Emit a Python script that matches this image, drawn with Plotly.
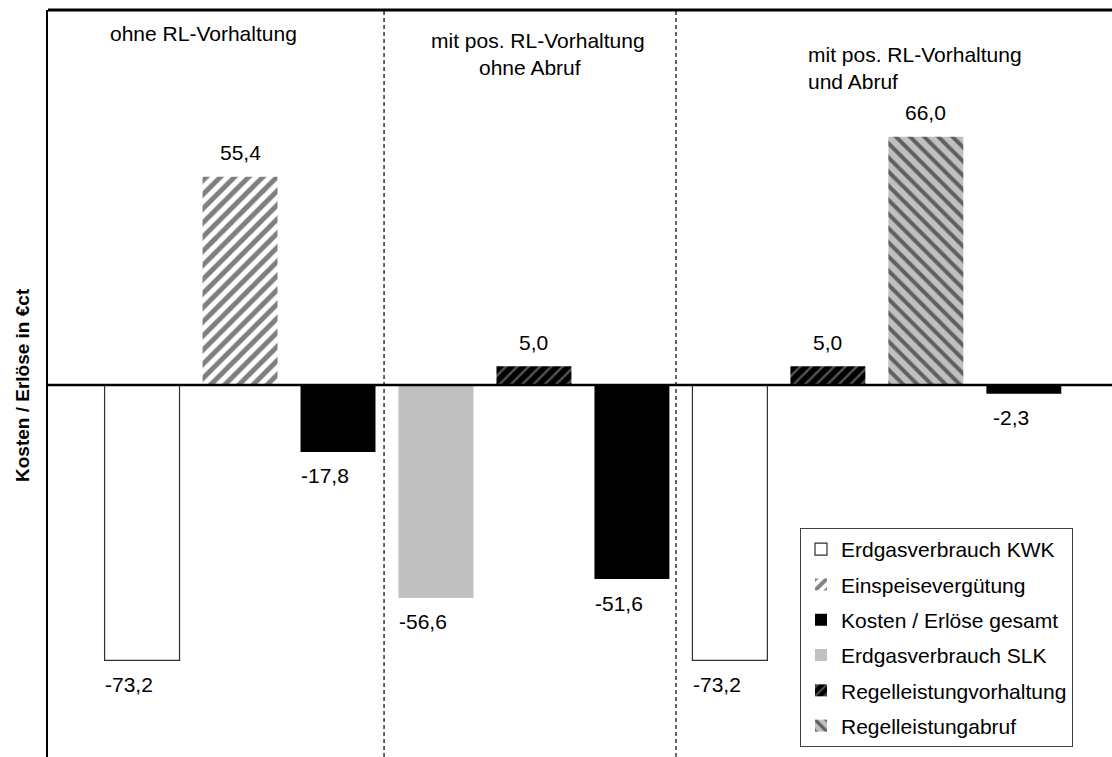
import plotly.graph_objects as go

# ---------------- data ----------------
categories = [
    "A_KWK", "A_Einspeise", "A_Gesamt",
    "B_SLK", "B_Vorhaltung", "B_Gesamt",
    "C_KWK", "C_Vorhaltung", "C_Abruf", "C_Gesamt",
]

kwk_cats = ["A_KWK", "C_KWK"]
kwk_vals = [-73.2, -73.2]

einspeise_cats = ["A_Einspeise"]
einspeise_vals = [55.4]

gesamt_cats = ["A_Gesamt", "B_Gesamt", "C_Gesamt"]
gesamt_vals = [-17.8, -51.6, -2.3]

slk_cats = ["B_SLK"]
slk_vals = [-56.6]

vorhaltung_cats = ["B_Vorhaltung", "C_Vorhaltung"]
vorhaltung_vals = [5.0, 5.0]

abruf_cats = ["C_Abruf"]
abruf_vals = [66.0]

series_names = [
    "Erdgasverbrauch KWK",
    "Einspeisevergütung",
    "Kosten / Erlöse gesamt",
    "Erdgasverbrauch SLK",
    "Regelleistungvorhaltung",
    "Regelleistungabruf",
]

y_title = "Kosten / Erlöse in €ct"

# ---------------- styling ----------------
FONT = "Liberation Sans, Arial, sans-serif"
W = 0.765

styles = {
    "Erdgasverbrauch KWK": dict(color="white", line=dict(color="#303030", width=1.2)),
    "Einspeisevergütung": dict(color="white", line=dict(width=0),
                               pattern=dict(shape="/", fgcolor="black", bgcolor="white",
                                            size=10, solidity=0.5)),
    "Kosten / Erlöse gesamt": dict(color="black", line=dict(width=0)),
    "Erdgasverbrauch SLK": dict(color="#c0c0c0", line=dict(width=0)),
    "Regelleistungvorhaltung": dict(color="black", line=dict(width=0),
                                    pattern=dict(shape="/", fgcolor="#a8a8a8", bgcolor="black",
                                                 size=8, solidity=0.3)),
    "Regelleistungabruf": dict(color="#c0c0c0", line=dict(width=0),
                               pattern=dict(shape="\\", fgcolor="black", bgcolor="#c0c0c0",
                                            size=10, solidity=0.4)),
}

data_map = {
    "Erdgasverbrauch KWK": (kwk_cats, kwk_vals),
    "Einspeisevergütung": (einspeise_cats, einspeise_vals),
    "Kosten / Erlöse gesamt": (gesamt_cats, gesamt_vals),
    "Erdgasverbrauch SLK": (slk_cats, slk_vals),
    "Regelleistungvorhaltung": (vorhaltung_cats, vorhaltung_vals),
    "Regelleistungabruf": (abruf_cats, abruf_vals),
}

fig = go.Figure()
for name in series_names:
    cats, vals = data_map[name]
    fig.add_trace(go.Bar(x=cats, y=vals, name=name, width=W, legendgroup=name,
                         marker=styles[name], showlegend=True))

# value labels
def fmt(v):
    return f"{v:.1f}".replace(".", ",")

for name in series_names:
    cats, vals = data_map[name]
    for c, v in zip(cats, vals):
        fig.add_annotation(x=c, y=v, xref="x", yref="y", text=fmt(v), showarrow=False,
                           yanchor="middle", xanchor="center",
                           yshift=24 if v >= 0 else -24,
                           xshift=0 if v >= 0 else -13,
                           font=dict(family=FONT, size=21, color="black"))

# group headers
PL, PT, PW, PH = 48, 10, 1064, 747
headers = [
    ("ohne RL-Vorhaltung", 203, 33, "center"),
    ("mit pos. RL-Vorhaltung", 538, 40, "center"),
    ("ohne Abruf", 530, 68, "center"),
    ("mit pos. RL-Vorhaltung", 806, 55, "left"),
    ("und Abruf", 806, 82, "left"),
]
for txt, px, py, anc in headers:
    fig.add_annotation(x=(px - PL) / PW, y=1 - (py - PT) / PH, xref="paper", yref="paper",
                       text=txt, showarrow=False, xanchor=anc, yanchor="middle",
                       font=dict(family=FONT, size=21, color="black"))

# y title
fig.add_annotation(x=(22 - PL) / PW, y=1 - (385 - PT) / PH, xref="paper", yref="paper",
                   text=f"<b>{y_title}</b>", textangle=-90, showarrow=False,
                   xanchor="center", yanchor="middle",
                   font=dict(family=FONT, size=19, color="black"))

# lines
fig.add_shape(type="line", xref="paper", yref="paper", x0=0, x1=1, y0=1, y1=1,
              line=dict(color="black", width=3))
fig.add_shape(type="line", xref="paper", yref="y", x0=0, x1=1, y0=0, y1=0,
              line=dict(color="black", width=2.5), layer="above")
for xd in (2.47, 5.45):
    fig.add_shape(type="line", xref="x", yref="paper", x0=xd, x1=xd, y0=0, y1=1,
                  line=dict(color="black", width=1.2, dash="4px,3px"))

fig.update_layout(
    width=1112, height=757,
    margin=dict(l=PL, r=0, t=PT, b=0),
    paper_bgcolor="white", plot_bgcolor="white",
    barmode="overlay",
    showlegend=True,
    legend=dict(x=(800 - PL) / PW, y=1 - (528 - PT) / PH, xanchor="left", yanchor="top",
                bgcolor="white", bordercolor="#404040", borderwidth=1,
                font=dict(family=FONT, size=21, color="black"),
                traceorder="grouped", itemwidth=30, tracegroupgap=5),
    xaxis=dict(type="category", categoryorder="array", categoryarray=categories,
               range=[-0.96, 9.9], showticklabels=False, showgrid=False,
               zeroline=False, showline=False, ticks=""),
    yaxis=dict(range=[-98.9, 99.7], showticklabels=False, showgrid=False,
               zeroline=False, showline=True, linecolor="black", linewidth=1.5, ticks=""),
    font=dict(family=FONT),
)

fig.write_html("out.html")
